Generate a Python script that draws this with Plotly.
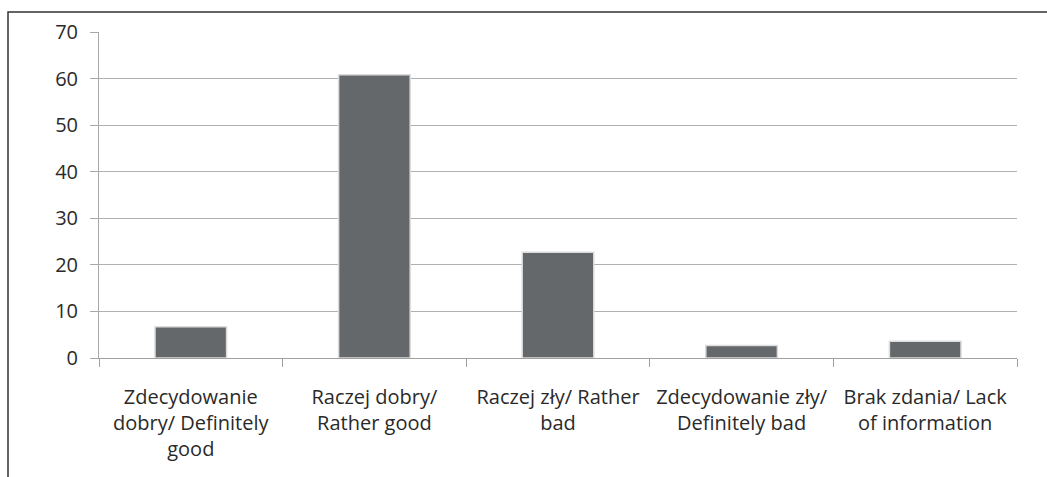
import plotly.graph_objects as go

categories = [
    "Zdecydowanie<br>dobry/ Definitely<br>good",
    "Raczej dobry/<br>Rather good",
    "Raczej zły/ Rather<br>bad",
    "Zdecydowanie zły/<br>Definitely bad",
    "Brak zdania/ Lack<br>of information",
]
values = [6.7, 60.8, 22.7, 2.7, 3.6]
y_ticks = [0, 10, 20, 30, 40, 50, 60, 70]

W, H = 1047, 477
L, R, T, B = 99, 30, 32, 119
pw, ph = W - L - R, H - T - B

fig = go.Figure(go.Bar(
    x=categories, y=values,
    marker=dict(color="#65686a", line=dict(color="#dcdcdc", width=1.5)),
    hoverinfo="skip",
))

font = dict(family="'Open Sans', Lato, sans-serif", size=20, color="#2a2a2a")

fig.update_layout(
    width=W, height=H,
    margin=dict(l=L, r=R, t=T, b=B, pad=0),
    paper_bgcolor="white", plot_bgcolor="white",
    bargap=0.61,
    showlegend=False,
    font=font,
    xaxis=dict(
        type="category",
        tickson="boundaries",
        ticks="outside", ticklen=8, tickcolor="#a0a0a0", tickwidth=1,
        showline=True, linecolor="#a0a0a0", linewidth=1,
        showgrid=False,
        tickfont=font,
        ticklabelstandoff=21,
        range=[-0.5, 4.5],
    ),
    yaxis=dict(
        range=[0, 70],
        tickvals=y_ticks,
        ticks="outside", ticklen=8, tickcolor="#a8a8a8", tickwidth=1,
        showline=True, linecolor="#a8a8a8", linewidth=1,
        showgrid=True, gridcolor="#b0b0b0", gridwidth=1,
        zeroline=False,
        tickfont=font,
        ticklabelstandoff=8,
    ),
    shapes=[dict(
        type="rect", xref="paper", yref="paper",
        x0=(8 - L) / pw, x1=(W + 5 - L) / pw,
        y0=(T + ph - (H + 5)) / ph, y1=(T + ph - 12) / ph,
        line=dict(color="#333333", width=1.5),
        fillcolor="rgba(0,0,0,0)",
        layer="below",
    )],
)

fig.write_html("out.html")
